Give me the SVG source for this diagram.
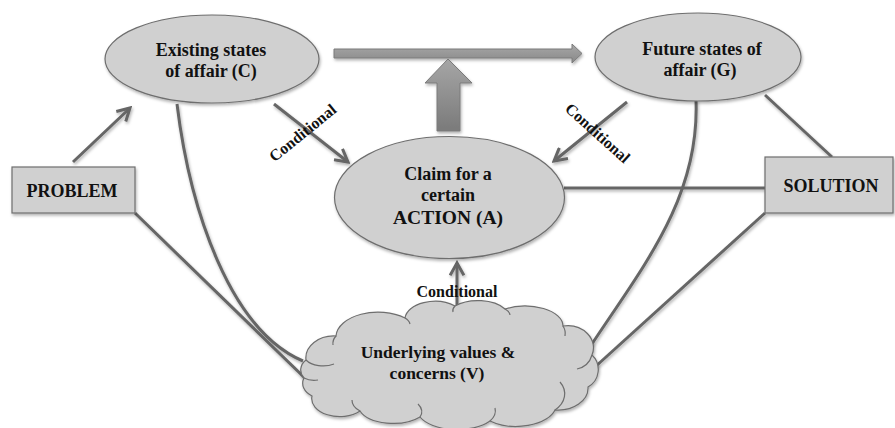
<svg xmlns="http://www.w3.org/2000/svg" width="895" height="428" viewBox="0 0 895 428">
<defs>
<style>
.node{fill:#d0d0d0;stroke:#6e6e6e;stroke-width:1.2}
.lbl{font-family:"Liberation Serif","Times New Roman",serif;font-weight:bold;fill:#111;text-anchor:middle}
.con{fill:none;stroke:#666;stroke-width:3}
.cond{font-family:"Liberation Serif","Times New Roman",serif;font-weight:bold;fill:#111;font-size:16px;text-anchor:middle}
.curl{fill:none;stroke:#6e6e6e;stroke-width:1.2}
</style>
<filter id="sh" x="-10%" y="-10%" width="130%" height="140%">
<feDropShadow dx="1" dy="2" stdDeviation="1.5" flood-color="#000" flood-opacity="0.3"/>
</filter>
<marker id="chev" viewBox="0 0 12 12" refX="10" refY="6" markerWidth="5.5" markerHeight="5.5" orient="auto" markerUnits="strokeWidth">
<path d="M1,1 L10,6 L1,11" fill="none" stroke="#666" stroke-width="2.2"/>
</marker>
<linearGradient id="gh" x1="0" y1="0" x2="0" y2="1">
<stop offset="0" stop-color="#a8a8a8"/>
<stop offset="1" stop-color="#888"/>
</linearGradient>
<linearGradient id="gv" x1="0" y1="0" x2="0" y2="1">
<stop offset="0" stop-color="#a6a6a6"/>
<stop offset="1" stop-color="#7a7a7a"/>
</linearGradient>
</defs>
<rect width="895" height="428" fill="#fff"/>

<g id="connectors" filter="url(#sh)">
<path class="con" d="M73,162 L130,108" marker-end="url(#chev)"/>
<path class="con" d="M274,104 L348,162" marker-end="url(#chev)"/>
<path class="con" d="M627,102 L554,161" marker-end="url(#chev)"/>
<path class="con" d="M457,306 L457,263" marker-end="url(#chev)"/>
<path class="con" d="M564,188 L765,188"/>
<path class="con" d="M765,95 L832,157"/>
<path class="con" d="M177,104 C190,210 230,330 303,361"/>
<path class="con" d="M135,213 L310,383"/>
<path class="con" d="M696,100 C700,200 640,270 588,350"/>
<path class="con" d="M765,213 L595,367"/>
<path d="M334,49 L572,49 L572,44 L582,53.5 L572,63 L572,58 L334,58 Z" fill="url(#gh)" stroke="#7a7a7a" stroke-width="1"/>
<path d="M448,59 L472,83 L460,83 L460,131 L437,131 L437,83 L425,83 Z" fill="url(#gv)" stroke="#7a7a7a" stroke-width="1"/>
</g>

<g id="nodeC">
<ellipse class="node" cx="212" cy="59" rx="107" ry="44" filter="url(#sh)"/>
<text class="lbl" font-size="18" x="211" y="56">Existing  states</text>
<text class="lbl" font-size="18" x="211" y="77">of affair  (C)</text>
</g>

<g id="nodeG">
<ellipse class="node" cx="698" cy="57" rx="103" ry="44" filter="url(#sh)"/>
<text class="lbl" font-size="18" x="702" y="55">Future states of</text>
<text class="lbl" font-size="18" x="700" y="76">affair (G)</text>
</g>

<g id="nodeA">
<ellipse class="node" cx="449.5" cy="197.5" rx="115" ry="61" filter="url(#sh)"/>
<text class="lbl" font-size="18" x="448" y="180">Claim for a</text>
<text class="lbl" font-size="18" x="448" y="201">certain</text>
<text class="lbl" font-size="19.5" x="448" y="224">ACTION (A)</text>
</g>

<g id="nodeProblem">
<rect class="node" x="12" y="167" width="123" height="46" filter="url(#sh)"/>
<text class="lbl" font-size="18" x="72" y="197">PROBLEM</text>
</g>

<g id="nodeSolution">
<rect class="node" x="765" y="157" width="128" height="56" filter="url(#sh)"/>
<text class="lbl" font-size="18" x="831" y="192">SOLUTION</text>
</g>

<g id="nodeV">
<path class="node" filter="url(#sh)" d="M312,396 A20,15 0 0 1 304,378 A18,14 0 0 1 306,360 A28,22 0 0 1 336,336 A42,25 0 0 1 405,318 A30,18 0 0 1 455,306 A32,18 0 0 1 505,309 A38,20 0 0 1 563,326 A26,22 0 0 1 592,355 A20,20 0 0 1 588,387 A30,22 0 0 1 555,410 A40,22 0 0 1 490,421 A40,20 0 0 1 420,417 A35,18 0 0 1 360,411 A28,18 0 0 1 312,396 Z"/>
<path class="curl" d="M306,360 A20,12 0 0 0 334,364"/>
<path class="curl" d="M304,378 A16,10 0 0 0 318,380"/>
<path class="curl" d="M336,336 A14,12 0 0 0 333,345"/>
<path class="curl" d="M405,318 A16,10 0 0 1 410,324"/>
<path class="curl" d="M455,306 A20,10 0 0 0 453,312"/>
<path class="curl" d="M505,309 A20,10 0 0 1 510,315"/>
<path class="curl" d="M563,326 A14,14 0 0 1 565,336"/>
<path class="curl" d="M592,355 A20,20 0 0 1 577,369"/>
<path class="curl" d="M555,410 A30,22 0 0 0 560,382"/>
<path class="curl" d="M490,421 A30,18 0 0 0 495,408"/>
<path class="curl" d="M420,417 A30,16 0 0 0 418,404"/>
<path class="curl" d="M360,411 A22,14 0 0 1 352,400"/>
<text class="lbl" font-size="17.5" x="438" y="358">Underlying  values &amp;</text>
<text class="lbl" font-size="17.5" x="437" y="379">concerns (V)</text>
</g>

<g id="labels">
<text class="cond" transform="translate(306,137) rotate(-39)">Conditional</text>
<text class="cond" transform="translate(594,137) rotate(42)">Conditional</text>
<text class="cond" x="457" y="297">Conditional</text>
</g>
</svg>
